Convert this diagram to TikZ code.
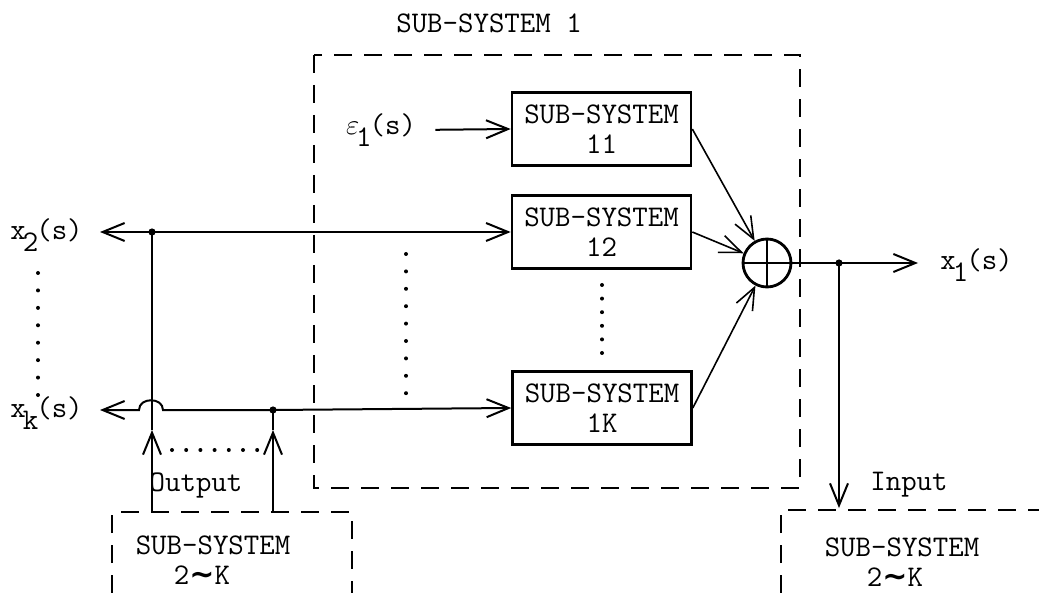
\documentclass[tikz,border=0pt]{standalone}
\usepackage{fontspec}
\newfontfamily\symfnt{DejaVu Sans}
\usetikzlibrary{arrows.meta}
\newcommand\lowsub[1]{\kern-1.5pt\raisebox{-0.42em}{#1}\kern-1pt}
\newcommand\twok{2{\symfnt\bfseries ∼}K}
\begin{document}
\begin{tikzpicture}[x=0.5pt,y=-0.5pt,
  every node/.style={font=\fontsize{15}{15}\selectfont\ttfamily, inner sep=0pt},
  sig/.style={line width=1pt},
  thin sig/.style={line width=0.8pt},
  arr/.style={-{Straight Barb[length=11pt,width=9pt]}},
  blk/.style={draw, line width=1.3pt, minimum width=89.5pt, minimum height=36.5pt, align=center},
  dbox/.style={line width=1.1pt, dash pattern=on 9pt off 6pt},
  jdot/.style={circle, fill, minimum size=3.6pt, inner sep=0pt}]
\useasboundingbox (0,0) rectangle (1039,593);

% title and main dashed box
\node (title) at (489,23) {SUB-SYSTEM 1};
\draw[dbox] (314,55) rectangle (800,488);

% inner blocks
\node[blk] (b11) at (601.5,129) {SUB-SYSTEM\\11};
\node[blk] (b12) at (601.5,232) {SUB-SYSTEM\\12};
\node[blk] (b1k) at (602,408) {SUB-SYSTEM\\1K};

% summing junction
\node[circle, draw, line width=1.4pt, minimum size=24pt] (sum) at (767,263) {};
\draw[line width=1.3pt] (sum.north) -- (sum.south);
\draw[line width=1.3pt] (sum.west) -- (sum.east);

\draw[thin sig, arr] (b11.east) -- (sum);
\draw[thin sig, arr] (b12.east) -- (sum);
\draw[thin sig, arr] (b1k.east) -- (sum);

% epsilon input
\node (eps) at (381,130) {$\varepsilon$\lowsub{1}(s)};
\draw[sig, arr, shorten <=9.5pt] (eps.east) -- (b11.west);

% output x1
\node[anchor=west] (x1) at (940,265) {x\lowsub{1}(s)};
\coordinate (x1tip) at (918,263);
\draw[sig, arr] (sum.east) -- (x1tip);
\coordinate (br) at (839,263);
\node[jdot] (brdot) at (br) {};
\coordinate (intip) at (839,508);
\draw[sig, arr] (br) -- (intip);

% input sub-system box (bottom right)
\draw[dbox] (781,593) -- (781,510) -- (1039,510);
\node (inlbl) at (909,485) {Input};
\node (ss2b) at (902,547) {SUB-SYSTEM};
\node (ss2bk) at (895,577) {\twok};

% output sub-system box (bottom left)
\draw[dbox] (112,593) -- (112,512) -- (352,512) -- (352,593);
\node (outlbl) at (196,485) {Output};
\node (ss2a) at (213,545) {SUB-SYSTEM};
\node (ss2ak) at (202,575) {\twok};

% left signals
\node[anchor=west] (x2) at (10,235) {x\lowsub{2}(s)};
\node[anchor=west] (xk) at (10,413) {x\lowsub{k}(s)};
\coordinate (x2tip) at (100,232);
\coordinate (xktip) at (100,410);

\coordinate (o1) at (152,512);
\coordinate (m1) at (152,430);
\coordinate (j1) at (152,232);
\coordinate (o2) at (273,512);
\coordinate (m2) at (273,430);
\coordinate (j2) at (273,410);

\draw[sig, arr] (o1) -- (m1);
\draw[sig] (m1) -- (j1);
\draw[sig, arr] (o2) -- (m2);
\draw[sig] (m2) -- (j2);
\node[jdot] (j1dot) at (j1) {};
\node[jdot] (j2dot) at (j2) {};

\draw[sig, arr] (j1) -- (x2tip);
\draw[sig, arr] (j1) -- (b12.west);
\draw[sig, arr] (j2) -- (b1k.west);
\draw[sig, arr] (j2) -- (163,410) .. controls (163,397) and (139,397) .. (139,410) -- (xktip);

% dotted ellipses
\foreach \i in {0,...,7} \fill (38,273+\i*17.43) circle (1pt);
\foreach \i in {0,...,8} \fill (406,254+\i*17.4) circle (1pt);
\foreach \i in {0,...,5} \fill (602,285+\i*13.6) circle (1pt);
\foreach \i in {0,...,6} \fill (172+\i*14.2,450) circle (1pt);
\end{tikzpicture}
\end{document}
